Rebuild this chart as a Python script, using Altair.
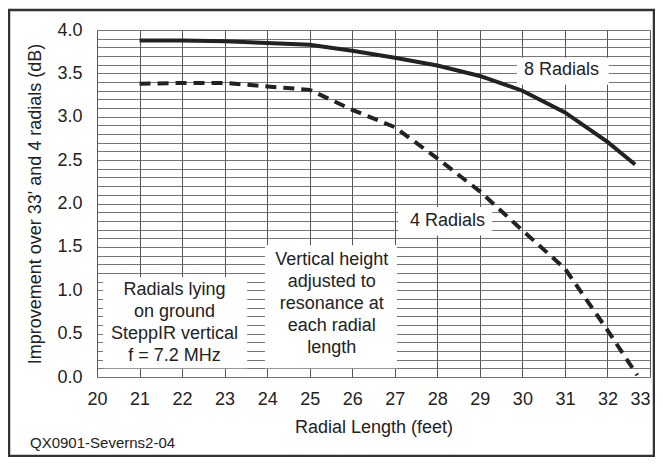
import altair as alt
import pandas as pd

FONT = "Liberation Sans"
INK = "#222222"

# ---- data ----
radial_len_8 = [21, 22, 23, 24, 25, 26, 27, 28, 29, 30, 31, 32, 32.65]
gain_8 = [3.88, 3.88, 3.87, 3.85, 3.83, 3.76, 3.68, 3.59, 3.47, 3.30, 3.05, 2.71, 2.45]

radial_len_4 = [21, 22, 23, 24, 25, 26, 27, 28, 29, 30, 31, 32, 32.7]
gain_4 = [3.38, 3.39, 3.39, 3.35, 3.31, 3.08, 2.88, 2.52, 2.14, 1.69, 1.25, 0.54, 0.02]

x_ticks = list(range(20, 34))
y_grid = [round(i * 0.1, 1) for i in range(41)]

# annotation boxes (white panels over the grid), in data units
box_x1 = [29.87, 27.08, 20.14, 23.95]
box_x2 = [32.03, 29.29, 23.53, 27.05]
box_y1 = [3.37, 1.63, 0.10, 0.10]
box_y2 = [3.68, 1.96, 1.15, 1.52]

# annotation text lines
note_text = ["8 Radials", "4 Radials",
             "Radials lying", "on ground", "SteppIR vertical", "f = 7.2 MHz",
             "Vertical height", "adjusted to", "resonance at", "each radial", "length"]
note_x = [30.92, 28.24, 21.82, 21.82, 21.82, 21.82, 25.52, 25.52, 25.52, 25.52, 25.52]
note_y = [3.54, 1.80, 1.00, 0.75, 0.50, 0.245, 1.35, 1.095, 0.845, 0.59, 0.335]

W, H = 553, 347

x_scale = alt.Scale(domain=[20, 33], nice=False, zero=False)
y_scale = alt.Scale(domain=[0, 4], nice=False, zero=False)

x_axis = alt.Axis(
    title="Radial Length (feet)", values=x_ticks, format="d",
    labelAlign={"condition": {"test": "datum.value >= 33", "value": "right"}, "value": "center"},
    grid=True, gridColor="#555555", gridWidth=1,
    ticks=False, domain=False,
    labelFontSize=18, labelColor=INK, labelPadding=13,
    labelFlush=False, labelOverlap=False, labelFont=FONT,
    titleFontSize=18, titleFontWeight="normal", titleColor=INK, titleFont=FONT,
    titleX=W / 2, titleY=50, titleBaseline="middle", titleAlign="center",
    zindex=0,
)
y_axis = alt.Axis(
    title="Improvement over 33' and 4 radials (dB)", values=y_grid,
    labelExpr="(round(datum.value*10) % 5 == 0) ? format(datum.value, '.1f') : ''",
    grid=True, gridColor="#666666", gridWidth=0.9,
    ticks=False, domain=False,
    labelFontSize=18, labelColor=INK, labelPadding=15,
    labelFlush=False, labelOverlap=False, labelFont=FONT, labelBaseline="middle",
    titleFontSize=18, titleFontWeight="normal", titleColor=INK, titleFont=FONT,
    titleX=-62, titleY=H / 2, titleBaseline="middle", titleAlign="center", titleAngle=270,
    zindex=0,
)

def X(field):
    return alt.X(field, type="quantitative", scale=x_scale, axis=x_axis)

def Y(field):
    return alt.Y(field, type="quantitative", scale=y_scale, axis=y_axis)

boxes = pd.DataFrame({"x1": box_x1, "x2": box_x2, "y1": box_y1, "y2": box_y2})
d8 = pd.DataFrame({"len": radial_len_8, "gain": gain_8})
d4 = pd.DataFrame({"len": radial_len_4, "gain": gain_4})
notes = pd.DataFrame({"label": note_text, "x": note_x, "y": note_y})
one = pd.DataFrame({"k": [0]})

box_layer = alt.Chart(boxes).mark_rect(fill="white", stroke=None).encode(
    x=X("x1"), x2="x2", y=Y("y1"), y2="y2"
)

line8 = alt.Chart(d8).mark_line(color=INK, strokeWidth=4, strokeCap="butt").encode(
    x=X("len"), y=Y("gain")
)
line4 = alt.Chart(d4).mark_line(color=INK, strokeWidth=4, strokeCap="butt",
                                strokeDash=[11, 7]).encode(
    x=X("len"), y=Y("gain")
)

text_layer = alt.Chart(notes).mark_text(
    font=FONT, fontSize=18, color=INK, align="center", baseline="middle"
).encode(x=X("x"), y=Y("y"), text="label:N")

frame = alt.Chart(one).mark_rect(fill="transparent", stroke="#333333", strokeWidth=2.5).encode(
    x=alt.value(-88), x2=alt.value(557), y=alt.value(-20), y2=alt.value(426)
)

credit = alt.Chart(one).mark_text(
    text="QX0901-Severns2-04", font=FONT, fontSize=15, color=INK,
    align="left", baseline="middle"
).encode(x=alt.value(-67), y=alt.value(413))

chart = alt.layer(box_layer, line8, line4, text_layer, frame, credit).properties(
    width=W, height=H,
    autosize=alt.AutoSizeParams(type="none"),
    padding={"left": 89, "top": 22, "right": 5, "bottom": 80},
    background="white",
).configure_view(stroke=INK, strokeWidth=1.2).configure(font=FONT)

chart.save("out.html", embed_options={"renderer": "svg", "actions": False})
